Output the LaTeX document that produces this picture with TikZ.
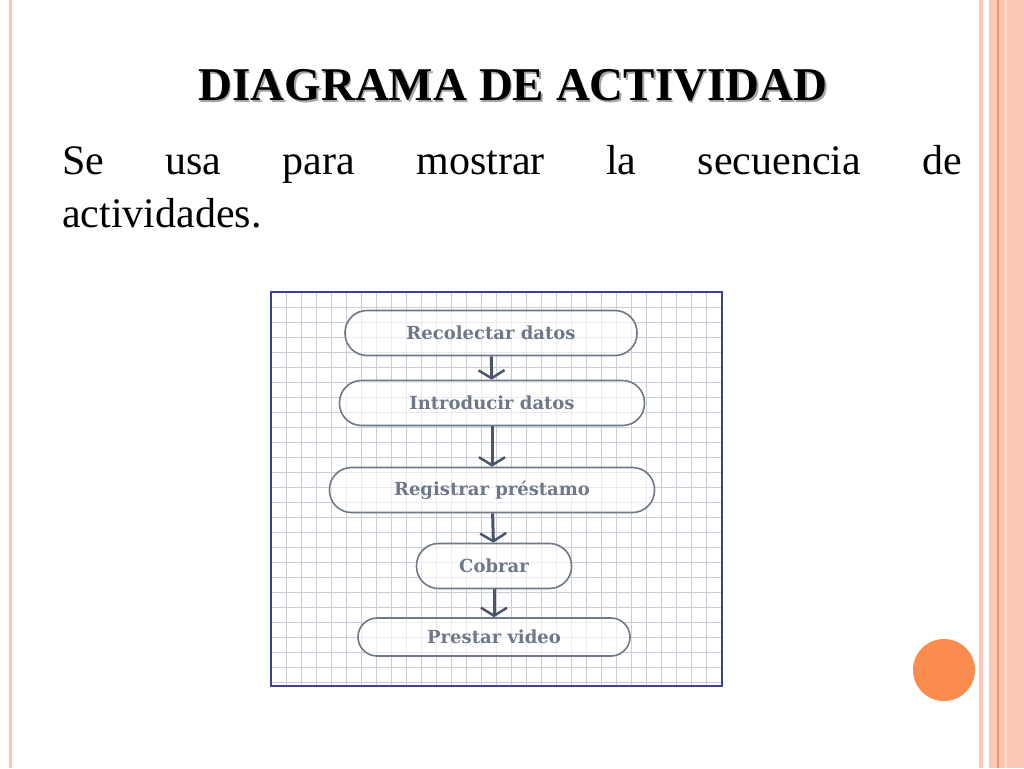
\documentclass[tikz,border=0pt]{standalone}
\usepackage{fontspec}
\setmainfont{Liberation Serif}
\newfontfamily\boxfont{DejaVu Serif}
\usetikzlibrary{arrows.meta}
\definecolor{salmon}{RGB}{252,200,180}
\definecolor{salmond}{RGB}{240,150,110}
\definecolor{orng}{RGB}{250,140,80}
\definecolor{gridc}{RGB}{200,205,215}
\definecolor{nodec}{RGB}{110,120,135}
\definecolor{arrc}{RGB}{75,85,105}
\tikzset{act/.style={draw=nodec,line width=1.6pt,rounded corners=22pt,fill=white,fill opacity=0.6,text opacity=1,text=nodec,font=\boxfont\fontsize{18}{22}\selectfont\bfseries,inner sep=0pt,minimum height=45pt},
flow/.style={draw=arrc,line width=3pt,-{Straight Barb[length=8pt,width=26pt,line width=2.5pt]}}}
\begin{document}
\begin{tikzpicture}[x=1pt,y=-1pt]
\useasboundingbox (0,0) rectangle (1024,768);
\fill[white] (0,0) rectangle (1024,768);
% borders
\fill[salmon] (9,0) rectangle (12,768);
\fill[salmon] (979,0) rectangle (983,768);
\fill[salmon] (989,0) rectangle (1024,768);
\fill[salmond] (997,0) rectangle (999,768);
\fill[salmon!60] (1005,0) rectangle (1007,768);
\fill[orng] (944,670) circle (31);
% title
\node (t) at (513,85) {\fontsize{47}{52}\selectfont\bfseries\makebox[0pt]{\raisebox{-2pt}[0pt][0pt]{\hspace{3pt}\color{gray!70}DIAGRAMA DE ACTIVIDAD}}\makebox[0pt]{DIAGRAMA DE ACTIVIDAD}};
\node[anchor=north west,text width=900pt,align=justify,inner sep=0pt,font=\fontsize{42}{53}\selectfont] (body) at (62,145) {Se usa para mostrar la secuencia de\linebreak actividades.};
% grid
\begin{scope}
\clip (271,292) rectangle (722,686);
\foreach \x in {271,286,...,722} \draw[gridc,line width=0.8pt] (\x,292) -- (\x,686);
\foreach \y in {292,307,...,686} \draw[gridc,line width=0.8pt] (271,\y) -- (722,\y);
\end{scope}
\draw[arrc!80!blue,line width=2.5pt] (271,292) rectangle (722,686);
\node[act,minimum width=292pt] (n1) at (491,333) {Recolectar datos};
\node[act,minimum width=305pt] (n2) at (492,403) {Introducir datos};
\node[act,minimum width=325pt] (n3) at (492,490) {Registrar préstamo};
\node[act,minimum width=155pt] (n4) at (494,566) {Cobrar};
\node[act,minimum width=272pt,minimum height=38pt,rounded corners=19pt] (n5) at (494,637) {Prestar video};
\draw[flow] (n1) -- (n2);
\draw[flow] (n2) -- (n3);
\draw[flow] (n3) -- (n4);
\draw[flow] (n4) -- (n5);
\end{tikzpicture}
\end{document}
